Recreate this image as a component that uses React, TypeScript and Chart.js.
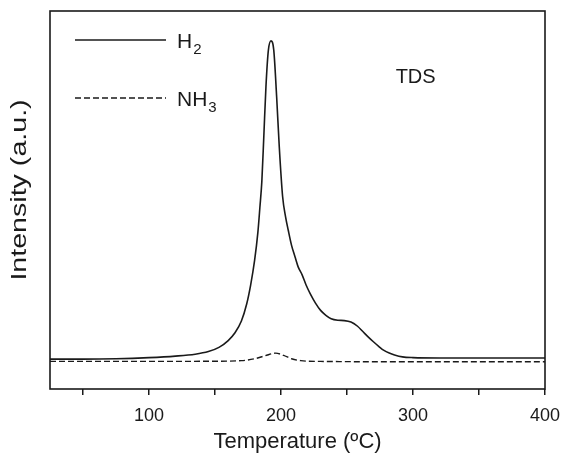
import { useEffect, useRef } from "react";
import { Chart, registerables } from "chart.js";

Chart.register(...registerables);

const h2Temps = [25, 50, 75, 100, 120, 135, 145, 153, 160, 165, 170, 174, 177, 180, 182.5, 184, 185.5, 187, 188.6, 190.4, 192.4, 194.5, 196.7, 198.7, 201.2, 203.5, 205.5, 208, 210.6, 213, 216, 219, 222, 226, 230, 234, 238, 243, 248, 253, 258, 262, 266, 270, 274, 278, 282, 286, 292, 300, 320, 350, 400];
const h2Values = [7.9, 7.9, 8.0, 8.3, 8.7, 9.2, 9.9, 11.0, 12.8, 14.8, 18.0, 22.5, 27.5, 34.0, 41.5, 48.0, 55.0, 67.0, 80.0, 89.5, 92.1, 89.7, 77.3, 64.0, 51.0, 45.5, 42.0, 38.0, 35.0, 32.3, 30.2, 27.5, 25.3, 22.8, 20.8, 19.5, 18.6, 18.2, 18.1, 17.7, 16.6, 15.2, 13.8, 12.5, 11.3, 10.2, 9.5, 9.0, 8.5, 8.3, 8.2, 8.2, 8.2];

const nh3Temps = [25, 100, 150, 170, 180, 188, 196, 202, 208, 215, 230, 300, 400];
const nh3Values = [7.3, 7.3, 7.35, 7.5, 8.0, 8.8, 9.5, 8.9, 8.0, 7.5, 7.3, 7.2, 7.2];

const xTickValues = [50, 100, 150, 200, 250, 300, 350, 400];
const xTickLabels = ["", "100", "", "200", "", "300", "", "400"];

const seriesLabels = ["H2", "NH3"];
const legendMain = ["H", "NH"];
const legendSub = ["2", "3"];
const annotationText = "TDS";
const annotationPos = { x: 302, y: 82.5 };
const yTitle = "Intensity (a.u.)";
const xTitle = "Temperature (ºC)";

const FONT = '"Liberation Sans", Arial, Helvetica, sans-serif';
const INK = "#1a1a1a";

export default function App() {
  const ref = useRef<HTMLCanvasElement | null>(null);

  useEffect(() => {
    const canvas = ref.current;
    if (!canvas) return;

    const framePlugin = {
      id: "frameAndLegend",
      afterDraw(chart: any) {
        const { ctx, chartArea } = chart;
        const { left, top, right, bottom } = chartArea;
        ctx.save();
        ctx.strokeStyle = INK;
        ctx.lineWidth = 1.6;
        ctx.strokeRect(left, top, right - left, bottom - top);

        // legend inside plot
        chart.data.datasets.forEach((ds: any, i: number) => {
          const y = top + 29 + i * 58;
          const x0 = left + 25;
          const x1 = left + 116;
          ctx.beginPath();
          ctx.setLineDash(ds.borderDash || []);
          ctx.lineWidth = ds.borderWidth;
          ctx.strokeStyle = ds.borderColor;
          ctx.moveTo(x0, y);
          ctx.lineTo(x1, y);
          ctx.stroke();
          ctx.setLineDash([]);
          ctx.fillStyle = INK;
          ctx.textBaseline = "middle";
          ctx.textAlign = "left";
          ctx.font = `21px ${FONT}`;
          const tx = x1 + 11;
          ctx.fillText(legendMain[i], tx, y + 2);
          const w = ctx.measureText(legendMain[i]).width;
          ctx.font = `15px ${FONT}`;
          ctx.fillText(legendSub[i], tx + w + 1, y + 10);
        });

        // annotation
        const xs = chart.scales.x;
        const ys = chart.scales.y;
        ctx.font = `20px ${FONT}`;
        ctx.textAlign = "center";
        ctx.textBaseline = "middle";
        ctx.fillStyle = INK;
        ctx.fillText(annotationText, xs.getPixelForValue(annotationPos.x), ys.getPixelForValue(annotationPos.y));

        // y-axis title
        ctx.translate(ys.left + 20, (top + bottom) / 2 - 10);
        ctx.rotate(-Math.PI / 2);
        ctx.scale(1.3, 1);
        ctx.font = `22px ${FONT}`;
        ctx.fillText(yTitle, 0, 0);
        ctx.restore();
      },
    };

    const chart = new Chart(canvas, {
      type: "line",
      data: {
        datasets: [
          {
            label: seriesLabels[0],
            data: h2Temps.map((t, i) => ({ x: t, y: h2Values[i] })),
            borderColor: INK,
            borderWidth: 1.6,
            pointRadius: 0,
            fill: false,
            cubicInterpolationMode: "monotone",
          },
          {
            label: seriesLabels[1],
            data: nh3Temps.map((t, i) => ({ x: t, y: nh3Values[i] })),
            borderColor: INK,
            borderWidth: 1.4,
            borderDash: [6, 3],
            pointRadius: 0,
            fill: false,
            cubicInterpolationMode: "monotone",
          },
        ],
      },
      options: {
        animation: false,
        responsive: false,
        maintainAspectRatio: false,
        layout: { padding: { left: 0, right: 16, top: 11, bottom: 0 } },
        plugins: {
          legend: { display: false },
          tooltip: { enabled: false },
        },
        scales: {
          x: {
            type: "linear",
            min: 25,
            max: 400,
            afterBuildTicks: (scale: any) => {
              scale.ticks = xTickValues.map((v) => ({ value: v }));
            },
            afterFit: (scale: any) => {
              scale.height = 67;
              scale.paddingLeft = 0;
              scale.paddingRight = 0;
            },
            ticks: {
              autoSkip: false,
              maxRotation: 0,
              padding: 10,
              color: INK,
              font: { family: FONT, size: 18 },
              callback: (value: any) => {
                const idx = xTickValues.indexOf(Number(value));
                return idx >= 0 ? xTickLabels[idx] : "";
              },
            },
            grid: {
              drawOnChartArea: false,
              drawTicks: true,
              tickLength: 6,
              color: INK,
              lineWidth: 1.5,
            },
            border: { display: false },
            title: {
              display: true,
              text: xTitle,
              color: INK,
              font: { family: FONT, size: 22 },
              padding: { top: 0, bottom: 1 },
            },
          },
          y: {
            min: 0,
            max: 100,
            afterFit: (scale: any) => {
              scale.width = 50;
            },
            ticks: { display: false },
            grid: { display: false },
            border: { display: false },
            title: { display: false },
          },
        },
      },
      plugins: [framePlugin],
    });

    return () => chart.destroy();
  }, []);

  return (
    <div style={{ position: "absolute", left: 0, top: 0, width: 561, height: 456, background: "#fff" }}>
      <canvas ref={ref} width={561} height={456} style={{ display: "block" }} />
    </div>
  );
}
